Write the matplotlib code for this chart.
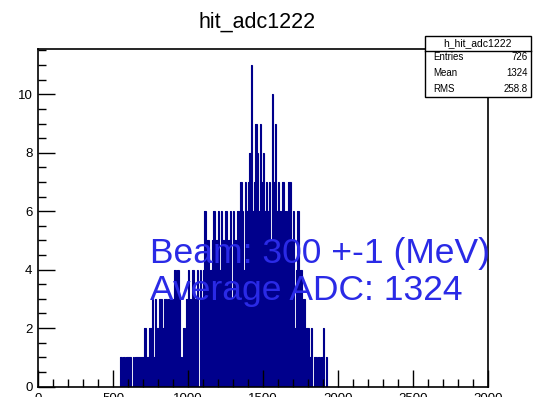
import matplotlib
matplotlib.use("Agg")
import matplotlib.pyplot as plt
from matplotlib.patches import Rectangle
from matplotlib.ticker import MultipleLocator
import numpy as np

plt.rcParams['font.family'] = ['Liberation Sans', 'DejaVu Sans']

# ---- data -------------------------------------------------------------
title = "hit_adc1222"
hist_name = "h_hit_adc1222"
bin_start = 550
bin_width = 10
counts = [
    1, 0, 1, 0, 1,    # 550
    1, 1, 0, 1, 0,    # 600
    1, 1, 1, 1, 1,    # 650
    1, 2, 1, 1, 2,    # 700
    2, 3, 1, 3, 2,    # 750
    2, 3, 3, 2, 3,    # 800
    3, 2, 3, 2, 3,    # 850
    3, 4, 2, 4, 3,    # 900
    1, 0, 2, 0, 3,    # 950
    4, 3, 2, 4, 3,    # 1000
    3, 4, 0, 4, 3,    # 1050
    4, 6, 3, 5, 2,    # 1100
    4, 5, 6, 3, 5,    # 1150
    6, 4, 6, 5, 3,    # 1200
    6, 4, 5, 6, 3,    # 1250
    6, 5, 4, 6, 5,    # 1300
    7, 6, 4, 7, 6,    # 1350
    7, 8, 11, 6, 7,   # 1400
    9, 8, 6, 9, 7,    # 1450
    8, 6, 7, 6, 7,    # 1500
    5, 10, 7, 9, 6,   # 1550
    7, 6, 4, 7, 5,    # 1600
    6, 4, 7, 7, 5,    # 1650
    6, 2, 4, 6, 3,    # 1700
    4, 2, 3, 1, 2,    # 1750
    2, 1, 2, 0, 1,    # 1800
    1, 0, 1, 0, 1,    # 1850
    2, 0, 1, 0, 0,    # 1900
]
stat_labels = ["Entries", "Mean", "RMS"]
stat_values = ["726", "1324", "258.8"]
text_lines = ["Beam: 300 +-1 (MeV)", "Average ADC: 1324"]
x_range = (0, 3000)
y_range = (0, 11.55)

# ---- figure -----------------------------------------------------------
W, H = 534, 397
fig = plt.figure(figsize=(W / 100, H / 100), dpi=100)
fig.patch.set_facecolor('white')

def fx(px):
    return px / W

def fy(py):
    return 1 - py / H

ax_l, ax_r, ax_t, ax_b = 38, 488, 49, 386.5
ax = fig.add_axes([fx(ax_l), fy(ax_b), fx(ax_r - ax_l), (ax_b - ax_t) / H])

edges = bin_start + bin_width * np.arange(len(counts) + 1)
navy = '#00008c'
ax.stairs(counts, edges, fill=True, color=navy, linewidth=0)
ax.stairs(counts, edges, fill=False, color=navy, linewidth=0.8)

ax.set_xlim(*x_range)
ax.set_ylim(*y_range)

ax.xaxis.set_major_locator(MultipleLocator(500))
ax.xaxis.set_minor_locator(MultipleLocator(100))
ax.yaxis.set_major_locator(MultipleLocator(2))
ax.yaxis.set_minor_locator(MultipleLocator(0.5))
ax.tick_params(which='major', direction='in', length=12, width=1,
               labelsize=9.5, top=False, right=False, color='black')
ax.tick_params(which='minor', direction='in', length=6, width=1,
               top=False, right=False)
ax.tick_params(axis='x', which='major', pad=5)
ax.tick_params(axis='y', which='major', pad=4)
for s in ax.spines.values():
    s.set_linewidth(1.2)
    s.set_color('black')

# title
fig.text(fx(257), fy(28), title, ha='center', va='baseline', fontsize=15.5)

# blue text
blue = '#2a2ae6'
fig.text(fx(150), fy(263), text_lines[0], ha='left', va='baseline',
         fontsize=25.5, color=blue)
fig.text(fx(150), fy(300), text_lines[1], ha='left', va='baseline',
         fontsize=25.5, color=blue)

# stats box
bx_l, bx_r, bx_t, bx_m, bx_b = 425, 531, 36, 51, 97
fig.patches.append(Rectangle((fx(bx_l), fy(bx_b)), fx(bx_r - bx_l), (bx_b - bx_t) / H,
                             transform=fig.transFigure, facecolor='white',
                             edgecolor='black', linewidth=1, zorder=5))
fig.lines.append(plt.Line2D([fx(bx_l), fx(bx_r)], [fy(bx_m), fy(bx_m)],
                            transform=fig.transFigure, color='black', lw=1, zorder=6))
fig.text(fx((bx_l + bx_r) / 2), fy((bx_t + bx_m) / 2), hist_name, ha='center',
         va='center', fontsize=7.5, zorder=7)
row_y = [57, 73, 89]
for lab, val, yy in zip(stat_labels, stat_values, row_y):
    fig.text(fx(433), fy(yy), lab, ha='left', va='center', fontsize=7, zorder=7)
    fig.text(fx(528), fy(yy), val, ha='right', va='center', fontsize=7, zorder=7)

fig.savefig("out.png", dpi=100)
